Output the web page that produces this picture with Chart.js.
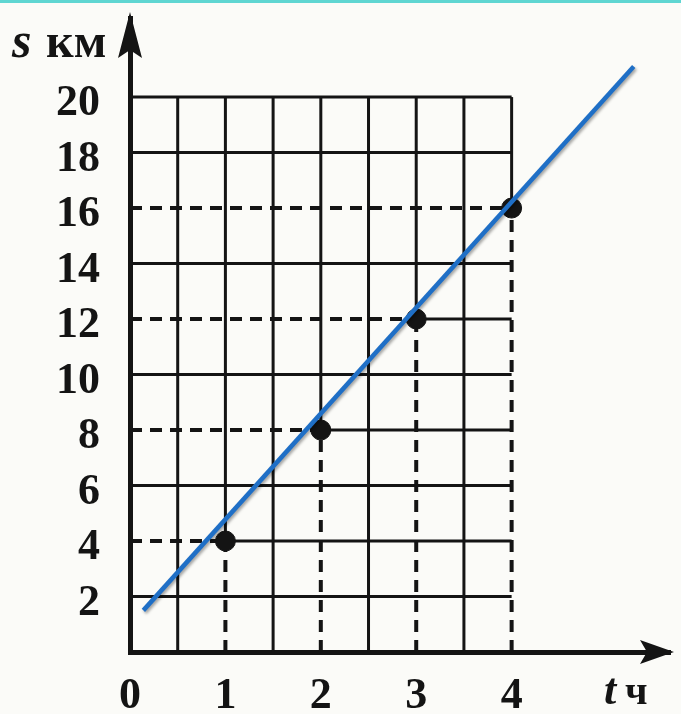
<!DOCTYPE html>
<html>
<head>
<meta charset="utf-8">
<script src="https://cdn.jsdelivr.net/npm/chart.js@4.4.1/dist/chart.umd.min.js"></script>
<style>
  html, body { margin: 0; padding: 0; background: #fbfbf8; }
  #wrap { position: relative; width: 681px; height: 714px; }
  #topband { position: absolute; left: 0; top: 0; width: 681px; height: 3px; background: #5fd6d2; }
</style>
</head>
<body>
<div id="wrap">
  <div id="topband"></div>
  <canvas id="grafico"></canvas>
</div>
<script>
// datos
const tiempoH = [1, 2, 3, 4];          // t, ч
const distanciaKm = [4, 8, 12, 16];    // s, км
const rejillaT = [0.5, 1, 1.5, 2, 2.5, 3, 3.5, 4];
const rejillaS = [2, 4, 6, 8, 10, 12, 14, 16, 18, 20];
const etiquetasT = [0, 1, 2, 3, 4];
const etiquetasS = [2, 4, 6, 8, 10, 12, 14, 16, 18, 20];
const rectaT = [0.14, 5.28];
const rectaS = [1.5, 21.1];
const maxT = 4;
const maxS = 20;

const NEGRO = '#141414';
const AZUL = '#1f6fc6';
const FUENTE = '"Liberation Serif", "DejaVu Serif", serif';

function segmento(puntos, dashed) {
    return {
        type: 'scatter',
        data: puntos,
        showLine: true,
        borderColor: NEGRO,
        borderWidth: dashed ? 4 : 3,
        borderDash: dashed ? [12, 8] : [],
        pointRadius: 0,
        order: 3,
        clip: false
    };
}

// --- rejilla (verticales y horizontales) ---
const datasetsRejilla = [];
rejillaT.forEach(t => {
    const i = tiempoH.indexOf(t);
    if (i >= 0) {
        datasetsRejilla.push(segmento([{x: t, y: 0}, {x: t, y: distanciaKm[i]}], true));
        datasetsRejilla.push(segmento([{x: t, y: distanciaKm[i]}, {x: t, y: maxS}], false));
    } else {
        datasetsRejilla.push(segmento([{x: t, y: 0}, {x: t, y: maxS}], false));
    }
});
rejillaS.forEach(s => {
    const i = distanciaKm.indexOf(s);
    if (i >= 0) {
        datasetsRejilla.push(segmento([{x: 0, y: s}, {x: tiempoH[i], y: s}], true));
        datasetsRejilla.push(segmento([{x: tiempoH[i], y: s}, {x: maxT, y: s}], false));
    } else {
        datasetsRejilla.push(segmento([{x: 0, y: s}, {x: maxT, y: s}], false));
    }
});

// sombra de la recta azul
const sombraRecta = {
    id: 'sombraRecta',
    beforeDatasetDraw(chart, args) {
        if (args.index !== 0) return;
        const ctx = chart.ctx;
        ctx.save();
        ctx.shadowColor = 'rgba(0,0,0,0.35)';
        ctx.shadowBlur = 3;
        ctx.shadowOffsetX = 1.5;
        ctx.shadowOffsetY = 2;
    },
    afterDatasetDraw(chart, args) {
        if (args.index !== 0) return;
        chart.ctx.restore();
    }
};

// flechas de los ejes y nombres de las magnitudes
const flechasEjes = {
    id: 'flechasEjes',
    afterDraw(chart) {
        const ctx = chart.ctx;
        const a = chart.chartArea;
        ctx.save();
        ctx.fillStyle = NEGRO;
        // flecha eje t
        const xt = a.right + 4, yb = a.bottom;
        ctx.beginPath();
        ctx.moveTo(xt, yb);
        ctx.lineTo(xt - 34, yb - 12);
        ctx.lineTo(xt - 27, yb);
        ctx.lineTo(xt - 34, yb + 12);
        ctx.closePath();
        ctx.fill();
        // flecha eje s
        const xl = a.left, yt = a.top - 6;
        ctx.beginPath();
        ctx.moveTo(xl, yt);
        ctx.lineTo(xl - 12, yt + 46);
        ctx.lineTo(xl, yt + 38);
        ctx.lineTo(xl + 12, yt + 46);
        ctx.closePath();
        ctx.fill();

        ctx.textBaseline = 'alphabetic';
        ctx.textAlign = 'left';
        ctx.font = 'bold italic 50px ' + FUENTE;
        ctx.fillText('s', 12, 57);
        ctx.font = 'bold 48px ' + FUENTE;
        ctx.fillText('км', 46, 57);
        ctx.font = 'bold italic 44px ' + FUENTE;
        ctx.fillText('t', 604, 704);
        ctx.font = 'bold 40px ' + FUENTE;
        ctx.fillText('ч', 625, 704);
        ctx.restore();
    }
};

new Chart(document.getElementById('grafico'), {
    type: 'scatter',
    data: {
        datasets: [
            {
                data: rectaT.map((t, i) => ({x: t, y: rectaS[i]})),
                showLine: true,
                borderColor: AZUL,
                borderWidth: 4.5,
                pointRadius: 0,
                order: 1,
                clip: false
            },
            {
                data: tiempoH.map((t, i) => ({x: t, y: distanciaKm[i]})),
                backgroundColor: NEGRO,
                borderColor: NEGRO,
                pointRadius: 10,
                pointHoverRadius: 10,
                order: 2
            },
            ...datasetsRejilla
        ]
    },
    options: {
        responsive: true,
        maintainAspectRatio: false,
        animation: false,
        layout: { padding: { top: 18, right: 8, left: 0, bottom: 0 } },
        plugins: { legend: { display: false }, tooltip: { enabled: false } },
        scales: {
            x: {
                type: 'linear',
                min: 0,
                max: 5.66,
                grid: { display: false, drawTicks: false },
                border: { display: true, width: 5, color: NEGRO },
                afterBuildTicks: scale => { scale.ticks = etiquetasT.map(v => ({value: v})); },
                afterFit: scale => {
                    scale.height = 62;
                    scale.paddingLeft = 0;
                    scale.paddingRight = 0;
                },
                ticks: {
                    color: NEGRO,
                    padding: 18,
                    font: { family: FUENTE, size: 44, weight: 'bold' },
                    maxRotation: 0,
                    autoSkip: false
                }
            },
            y: {
                type: 'linear',
                min: 0,
                max: 22.85,
                grid: { display: false, drawTicks: false },
                border: { display: true, width: 5, color: NEGRO },
                afterBuildTicks: scale => { scale.ticks = etiquetasS.map(v => ({value: v})); },
                afterFit: scale => {
                    scale.width = 130;
                    scale.paddingTop = 0;
                    scale.paddingBottom = 0;
                },
                ticks: {
                    color: NEGRO,
                    padding: 30,
                    labelOffset: 7,
                    font: { family: FUENTE, size: 44, weight: 'bold' },
                    autoSkip: false
                }
            }
        }
    },
    plugins: [sombraRecta, flechasEjes]
});
</script>
</body>
</html>
